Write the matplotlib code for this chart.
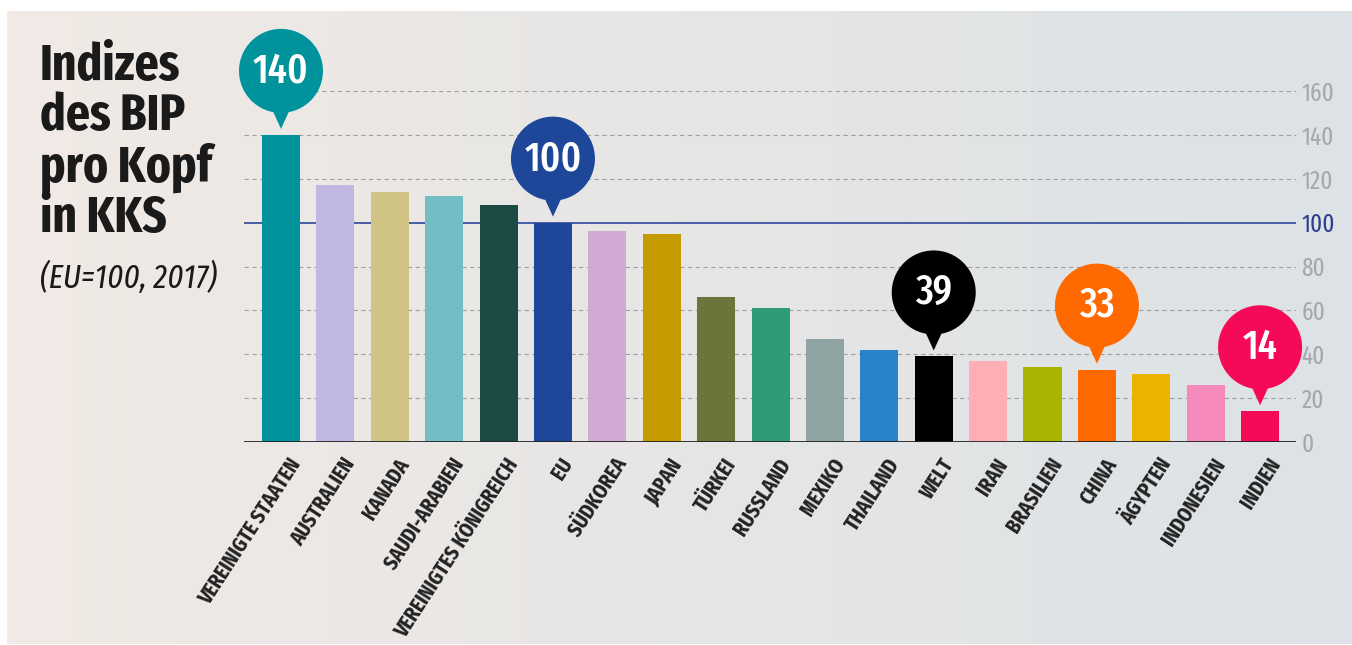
import matplotlib
matplotlib.use("Agg")
import matplotlib.pyplot as plt
from matplotlib import font_manager as fm
from matplotlib.patches import Ellipse, Polygon
import numpy as np

countries = [
    "VEREINIGTE STAATEN", "AUSTRALIEN", "KANADA", "SAUDI-ARABIEN",
    "VEREINIGTES KÖNIGREICH", "EU", "SÜDKOREA", "JAPAN", "TÜRKEI",
    "RUSSLAND", "MEXIKO", "THAILAND", "WELT", "IRAN", "BRASILIEN",
    "CHINA", "ÄGYPTEN", "INDONESIEN", "INDIEN",
]
values = [140, 117, 114, 112, 108, 100, 96, 95, 66, 61, 47, 42, 39, 37, 34, 33, 31, 26, 14]
colors = [
    "#00939B", "#C0B8E2", "#CFC484", "#72BEC4", "#1C4A44", "#1E4799",
    "#D3A8D5", "#C39A00", "#6B743B", "#2E9C78", "#8FA4A2", "#2A82C9",
    "#000000", "#FFAEB6", "#A8B400", "#FF6A00", "#EBB300", "#F589BC",
    "#F50A57",
]
highlighted = ["VEREINIGTE STAATEN", "EU", "WELT", "CHINA", "INDIEN"]
yticks = [0, 20, 40, 60, 80, 100, 120, 140, 160]

# pick a condensed face, close to the original's narrow type
installed = {f.name for f in fm.fontManager.ttflist}
wanted = ["Fira Sans Extra Condensed", "Fira Sans Condensed", "PT Sans Narrow",
          "Roboto Condensed", "Encode Sans Condensed", "Archivo Narrow",
          "Liberation Sans Narrow"]
narrow = next((n for n in wanted if n in installed), "DejaVu Sans")
FONT = [narrow, "DejaVu Sans"]

W, H = 1352, 645
fig = plt.figure(figsize=(W / 100, H / 100), dpi=100)
fig.patch.set_facecolor("white")

# background panel with soft left-to-right gradient
bg = fig.add_axes([7 / W, 1 / H, 1 - 7 / W, 1 - 12 / H])
c0 = np.array([0xF1, 0xEA, 0xE5]) / 255
c1 = np.array([0xDC, 0xE2, 0xE5]) / 255
t = np.linspace(0, 1, 256)[None, :, None]
bg.imshow(c0 * (1 - t) + c1 * t, aspect="auto", extent=[0, 1, 0, 1])
bg.set_axis_off()

left, right, bottom, top = 244, 1296, 442, 91
ax = fig.add_axes([left / W, 1 - bottom / H, (right - left) / W, (bottom - top) / H])
ax.patch.set_alpha(0)
x = np.arange(len(countries))
ax.bar(x, values, width=0.7, color=colors, zorder=3)
xlim = (-0.68, 18.66)
ylim = (0, 160)
ax.set_xlim(*xlim)
ax.set_ylim(*ylim)

for y in yticks[1:]:
    if y == 100:
        ax.axhline(y, color="#3B52A0", lw=1.3, zorder=2)
    else:
        ax.axhline(y, color="#A0A0A0", lw=0.8, ls=(0, (4, 3)), zorder=1)
ax.axhline(0, color="#222222", lw=2, zorder=4)

for s in ax.spines.values():
    s.set_visible(False)
ax.yaxis.tick_right()
ax.set_yticks(yticks)
ax.set_yticklabels([str(v) for v in yticks], family=FONT, fontsize=18)
ax.tick_params(axis="y", length=0, pad=4)
for lbl, v in zip(ax.get_yticklabels(), yticks):
    lbl.set_color("#2B3F8F" if v == 100 else "#A3A8AC")

ax.set_xticks(x + 0.12)
ax.set_xticklabels(countries, rotation=57, ha="right", va="top",
                   rotation_mode="anchor", family=FONT, fontsize=15.5,
                   fontweight="bold", color="#222222")
ax.tick_params(axis="x", length=0, pad=9)

# speech bubbles for highlighted bars (sizes in pixels -> data units)
px_x = (right - left) / (xlim[1] - xlim[0])
px_y = (bottom - top) / (ylim[1] - ylim[0])
r = 42
for name in highlighted:
    i = countries.index(name)
    v = values[i]
    tip = v + 6 / px_y
    cy = tip + 58 / px_y
    ax.add_patch(Polygon([(i - 11 / px_x, tip + 24 / px_y), (i + 11 / px_x, tip + 24 / px_y),
                          (i, tip)], closed=True, facecolor=colors[i],
                         edgecolor="none", clip_on=False, zorder=5))
    ax.add_patch(Ellipse((i, cy), 2 * r / px_x, 2 * r / px_y, facecolor=colors[i],
                         edgecolor="none", clip_on=False, zorder=5))
    ax.text(i, cy, str(v), ha="center", va="center", color="white",
            fontsize=30, family=FONT, fontweight="medium", zorder=6)

fig.text(40 / W, 1 - 42 / H, "Indizes\ndes BIP\npro Kopf\nin KKS",
         ha="left", va="top", fontsize=37, fontweight="bold", family=FONT,
         color="#1A1A1A", linespacing=1.02)
fig.text(40 / W, 1 - 278 / H, "(EU=100, 2017)", ha="left", va="center",
         fontsize=24, style="italic", family=FONT, color="#1A1A1A")

fig.savefig("out.png", dpi=100, facecolor=fig.get_facecolor())
